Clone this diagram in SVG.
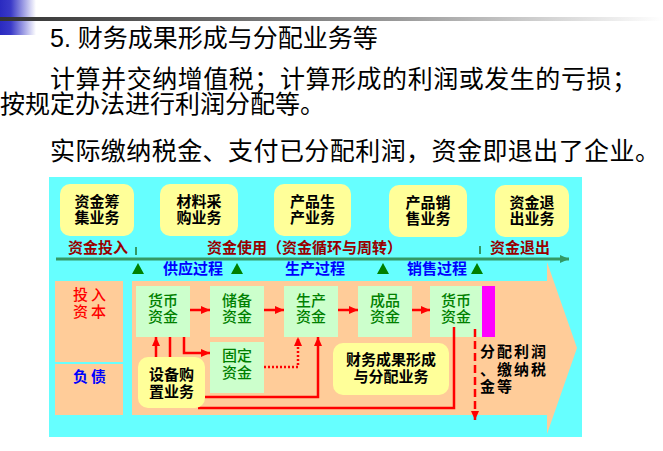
<svg xmlns="http://www.w3.org/2000/svg" width="663" height="451" viewBox="0 0 663 451">
<defs>
<linearGradient id="gBlue" x1="0" y1="0" x2="1" y2="0">
<stop offset="0" stop-color="#2a2ac0"/>
<stop offset="0.3" stop-color="#3a3ac8"/>
<stop offset="1" stop-color="#ffffff"/>
</linearGradient>
<linearGradient id="gGray" x1="0" y1="0" x2="1" y2="0">
<stop offset="0" stop-color="#333333"/>
<stop offset="0.6" stop-color="#9a9a9a"/>
<stop offset="1" stop-color="#ffffff"/>
</linearGradient>
<marker id="ar" markerUnits="userSpaceOnUse" markerWidth="10" markerHeight="8" refX="9" refY="4" orient="auto">
<path d="M0,0 L9,4 L0,8 z" fill="#ff0000"/>
</marker>
<marker id="ag" markerUnits="userSpaceOnUse" markerWidth="10" markerHeight="8" refX="9" refY="4" orient="auto">
<path d="M0,0 L9,4 L0,8 z" fill="#339966"/>
</marker>
<style>
.cjk{font-family:"Noto Sans CJK SC","Liberation Sans",sans-serif;}
.top{font-family:"Liberation Serif","Noto Sans CJK SC",serif;font-size:25px;fill:#000;}
.yb{fill:#ffff99;}
.gb{fill:#ccffcc;}
.bt{font-size:15px;font-weight:bold;fill:#000;text-anchor:middle;}
.gt{font-size:15px;font-weight:500;fill:#008000;text-anchor:middle;}
.lr{font-size:15px;font-weight:bold;fill:#990000;}
.lb{font-size:15px;font-weight:bold;fill:#0000ff;}
.ln{fill:none;stroke:#ff0000;stroke-width:2.5;}
.tri{fill:#008000;}
</style>
</defs>
<rect width="663" height="451" fill="#ffffff"/>
<g id="header">
<rect x="0" y="0" width="36" height="35" fill="url(#gBlue)"/>
<rect x="0" y="17" width="663" height="4" fill="url(#gGray)"/>
<text x="50" y="47" class="top" style="font-size:25px;font-family:'Liberation Sans','Noto Sans CJK SC',sans-serif">5. <tspan class="cjk">财务成果形成与分配业务等</tspan></text>
<text x="50" y="88" class="top cjk" textLength="587">计算并交纳增值税；计算形成的利润或发生的亏损；</text>
<text x="0" y="113" class="top cjk">按规定办法进行利润分配等。</text>
<text x="50" y="160" class="top cjk" textLength="610">实际缴纳税金、支付已分配利润，资金即退出了企业。</text>
</g>
<g id="panel">
<rect x="49" y="177" width="533" height="260" fill="#66ffff"/>
<polygon points="132,281 547,281 547,262 577,348 547,434 547,415 132,415" fill="#ffcc99"/>
<rect x="55" y="281" width="68" height="81" fill="#ffcc99"/>
<rect x="55" y="364" width="68" height="51" fill="#ffcc99"/>
</g>
<g id="top-boxes" class="cjk">
<g id="n-raise"><rect class="yb" x="60" y="184" width="74" height="52" rx="10"/><text class="bt" x="97" y="207">资金筹</text><text class="bt" x="97" y="223">集业务</text></g>
<g id="n-purchase"><rect class="yb" x="160" y="184" width="78" height="52" rx="10"/><text class="bt" x="199" y="207">材料采</text><text class="bt" x="199" y="223">购业务</text></g>
<g id="n-produce"><rect class="yb" x="274" y="184" width="77" height="52" rx="10"/><text class="bt" x="312.5" y="207">产品生</text><text class="bt" x="312.5" y="223">产业务</text></g>
<g id="n-sell"><rect class="yb" x="389" y="185" width="78" height="52" rx="10"/><text class="bt" x="428" y="208">产品销</text><text class="bt" x="428" y="224">售业务</text></g>
<g id="n-exit"><rect class="yb" x="495" y="185" width="74" height="52" rx="10"/><text class="bt" x="532" y="208">资金退</text><text class="bt" x="532" y="224">出业务</text></g>
</g>
<g id="timeline" class="cjk">
<text class="lr" x="68" y="253">资金投入</text>
<text class="lr" x="207" y="253">资金使用（资金循环与周转）</text>
<text class="lr" x="490" y="253">资金退出</text>
<line x1="136" y1="247" x2="136" y2="255" stroke="#339966" stroke-width="2"/>
<line x1="480" y1="246" x2="480" y2="254" stroke="#339966" stroke-width="2"/>
<line x1="56" y1="259" x2="569" y2="259" stroke="#339966" stroke-width="3" marker-end="url(#ag)"/>
<polygon class="tri" points="132,274 138,263 144,274"/>
<polygon class="tri" points="231,274 237,263 243,274"/>
<polygon class="tri" points="377,274 383,263 389,274"/>
<polygon class="tri" points="471,274 477,263 483,274"/>
<text class="lb" x="163" y="274">供应过程</text>
<text class="lb" x="285" y="274">生产过程</text>
<text class="lb" x="407" y="274">销售过程</text>
</g>
<g id="left-col" class="cjk">
<text x="73" y="300" style="font-size:15px;font-weight:500;fill:#ff0000;letter-spacing:3px">投入</text>
<text x="73" y="317" style="font-size:15px;font-weight:500;fill:#ff0000;letter-spacing:3px">资本</text>
<text x="73" y="382" style="font-size:15px;fill:#0000ff;font-weight:bold;letter-spacing:3px">负债</text>
</g>
<g id="green-boxes" class="cjk">
<g id="n-cash1"><rect class="gb" x="136" y="286" width="54" height="51"/><text class="gt" x="163" y="306">货币</text><text class="gt" x="163" y="322">资金</text></g>
<g id="n-reserve"><rect class="gb" x="210" y="286" width="54" height="51"/><text class="gt" x="237" y="306">储备</text><text class="gt" x="237" y="322">资金</text></g>
<g id="n-prodfund"><rect class="gb" x="284" y="286" width="54" height="51"/><text class="gt" x="311" y="306">生产</text><text class="gt" x="311" y="322">资金</text></g>
<g id="n-finished"><rect class="gb" x="358" y="286" width="54" height="51"/><text class="gt" x="385" y="306">成品</text><text class="gt" x="385" y="322">资金</text></g>
<g id="n-cash2"><rect class="gb" x="430" y="286" width="52" height="51"/><text class="gt" x="456" y="306">货币</text><text class="gt" x="456" y="322">资金</text><rect x="482" y="286" width="13" height="51" fill="#ff00ff"/></g>
<g id="n-fixed"><rect class="gb" x="210" y="342" width="54" height="51"/><text class="gt" x="237" y="361">固定</text><text class="gt" x="237" y="378">资金</text></g>
</g>
<g id="connectors">
<line class="ln" x1="190" y1="310" x2="210" y2="310" marker-end="url(#ar)"/>
<line class="ln" x1="264" y1="310" x2="284" y2="310" marker-end="url(#ar)"/>
<line class="ln" x1="338" y1="310" x2="358" y2="310" marker-end="url(#ar)"/>
<line class="ln" x1="412" y1="310" x2="430" y2="310" marker-end="url(#ar)"/>
<path class="ln" d="M184,337 V353 H210" marker-end="url(#ar)"/>
<path class="ln" d="M156,358 V337" marker-end="url(#ar)"/>
<path class="ln" d="M170,337 V358"/>
<path class="ln" d="M264,367 H298 V337" stroke-dasharray="2 2" marker-end="url(#ar)"/>
<path class="ln" d="M204,397 H318 V337" marker-end="url(#ar)"/>
<path class="ln" d="M198,408 H454 V327"/>
<path class="ln" d="M475,329 V420" stroke-dasharray="8 4" marker-end="url(#ar)"/>
</g>
<g id="bottom-boxes" class="cjk">
<g id="n-equip"><rect class="yb" x="138" y="357" width="67" height="51" rx="10"/><text class="bt" x="171.5" y="380">设备购</text><text class="bt" x="171.5" y="397">置业务</text></g>
<g id="n-result"><rect class="yb" x="333" y="343" width="116" height="52" rx="10"/><text class="bt" x="391" y="365">财务成果形成</text><text class="bt" x="391" y="382">与分配业务</text></g>
<g id="n-distribute"><text x="480" y="357" style="font-size:15px;font-weight:bold;fill:#000;letter-spacing:2px">分配利润</text><text x="480" y="375" style="font-size:15px;font-weight:bold;fill:#000;letter-spacing:2px">、缴纳税</text><text x="480" y="392" style="font-size:15px;font-weight:bold;fill:#000;letter-spacing:2px">金等</text></g>
</g>
</svg>
